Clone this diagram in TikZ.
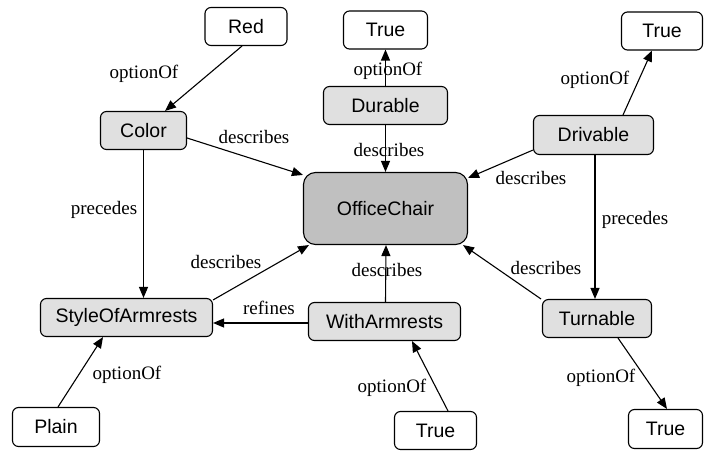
\documentclass[tikz,border=0pt]{standalone}
\usepackage{fontspec}
\setmainfont{Liberation Serif}
\setsansfont{Liberation Sans}
\usetikzlibrary{arrows.meta}
\definecolor{boxgray}{HTML}{E0E0E0}
\definecolor{maingray}{HTML}{C0C0C0}
\tikzset{
  box/.style={draw=black, line width=1.1pt, rounded corners=6pt, inner sep=0pt,
    font=\sffamily\fontsize{19.5}{22}\selectfont, align=center},
  wbox/.style={box, fill=white},
  gbox/.style={box, fill=boxgray},
  lbl/.style={inner sep=0pt, font=\rmfamily\fontsize{19}{22}\selectfont},
  arr/.style={line width=1.1pt, -{Triangle[length=11pt,width=9pt]}},
}
\begin{document}
\begin{tikzpicture}[x=1pt,y=-1pt]
\useasboundingbox (0,0) rectangle (704,452);
% nodes
\node[wbox, minimum width=82pt, minimum height=38pt] (red) at (246,26.5) {Red};
\node[wbox, minimum width=84pt, minimum height=38pt] (true1) at (385.5,30) {True};
\node[wbox, minimum width=81pt, minimum height=38pt] (true2) at (662,31) {True};
\node[gbox, minimum width=86pt, minimum height=38pt] (color) at (143.5,130.5) {Color};
\node[gbox, minimum width=124pt, minimum height=38pt] (durable) at (385.5,105.5) {Durable};
\node[gbox, minimum width=120pt, minimum height=39pt] (drivable) at (593.5,135) {Drivable};
\node[box, fill=maingray, rounded corners=12pt, minimum width=164pt, minimum height=72pt] (chair) at (385.5,208.5) {OfficeChair};
\node[gbox, minimum width=172pt, minimum height=38pt] (style) at (126.5,317.5) {StyleOfArmrests};
\node[gbox, minimum width=152pt, minimum height=38pt] (witharm) at (384.5,321.5) {WithArmrests};
\node[gbox, minimum width=109pt, minimum height=38pt] (turn) at (597,318.5) {Turnable};
\node[wbox, minimum width=87pt, minimum height=39pt] (plain) at (56,427) {Plain};
\node[wbox, minimum width=82pt, minimum height=38pt] (true3) at (435.5,430.5) {True};
\node[wbox, minimum width=74pt, minimum height=39pt] (true4) at (665.5,429) {True};
% connectors
\draw[arr] ([xshift=-4]red.south) -- ([xshift=21.5]color.north);
\draw[arr] ([yshift=-7.5]color.east) -- ([yshift=-3]chair.north west);
\draw[arr] (durable.north) -- (true1.south);
\draw[arr] (durable.south) -- (chair.north);
\draw[arr] ([xshift=29.5]drivable.north) -- ([xshift=-10]true2.south);
\draw[arr] ([yshift=5]drivable.south west) -- ([yshift=-6]chair.north east);
\draw[arr] ([xshift=1.5]drivable.south) -- ([xshift=-2]turn.north);
\draw[arr] (color.south) -- ([xshift=17]style.north);
\draw[arr] ([yshift=-2]style.north east) -- ([xshift=6]chair.south west);
\draw[arr] ([yshift=-1.5]witharm.west) -- ([yshift=-5.5]style.east);
\draw[arr] ([xshift=1]witharm.north) -- ([xshift=0.5]chair.south);
\draw[arr] ([xshift=-1]turn.north west) -- ([xshift=-5]chair.south east);
\draw[arr] ([xshift=12.5]true3.north) -- ([xshift=27.5]witharm.south);
\draw[arr] ([xshift=21]turn.south) -- ([xshift=1.5]true4.north);
\draw[arr] ([xshift=2]plain.north) -- ([xshift=-23.5]style.south);
% labels
\node[lbl] (l1) at (144,74) {optionOf};
\node[lbl] (l2) at (254,137) {describes};
\node[lbl] (l3) at (388,71) {optionOf};
\node[lbl] (l4) at (389,150) {describes};
\node[lbl] (l5) at (595,80) {optionOf};
\node[lbl] (l6) at (531,178) {describes};
\node[lbl] (l7) at (635,220) {precedes};
\node[lbl] (l8) at (104,210) {precedes};
\node[lbl] (l9) at (226,262) {describes};
\node[lbl] (l10) at (269,308) {refines};
\node[lbl] (l11) at (387,270) {describes};
\node[lbl] (l12) at (546,268) {describes};
\node[lbl] (l13) at (392,388) {optionOf};
\node[lbl] (l14) at (601,378) {optionOf};
\node[lbl] (l15) at (127,375) {optionOf};
\end{tikzpicture}
\end{document}
